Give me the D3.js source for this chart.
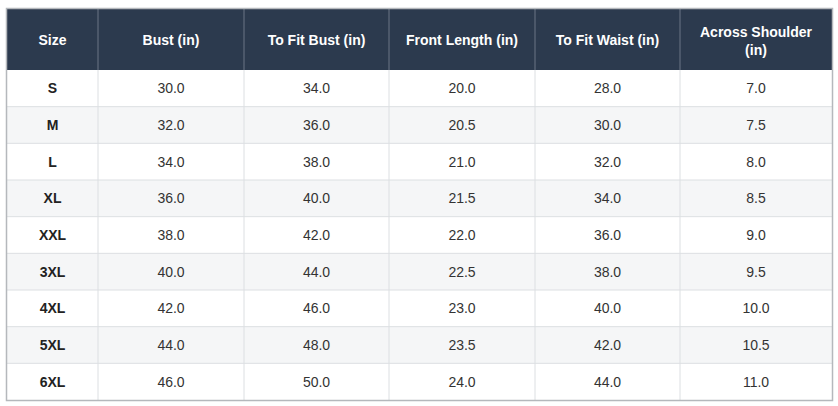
<!DOCTYPE html>
<html><head><meta charset="utf-8">
<script src="https://cdn.jsdelivr.net/npm/d3@7"></script>
<style>body{margin:0;background:#fff;}</style>
</head><body>
<div id="chart"></div>
<script>
const headers = ["Size", "Bust (in)", "To Fit Bust (in)", "Front Length (in)", "To Fit Waist (in)", "Across Shoulder (in)"];
const sizes = ["S", "M", "L", "XL", "XXL", "3XL", "4XL", "5XL", "6XL"];
const bust = ["30.0", "32.0", "34.0", "36.0", "38.0", "40.0", "42.0", "44.0", "46.0"];
const fitBust = ["34.0", "36.0", "38.0", "40.0", "42.0", "44.0", "46.0", "48.0", "50.0"];
const frontLength = ["20.0", "20.5", "21.0", "21.5", "22.0", "22.5", "23.0", "23.5", "24.0"];
const fitWaist = ["28.0", "30.0", "32.0", "34.0", "36.0", "38.0", "40.0", "42.0", "44.0"];
const shoulder = ["7.0", "7.5", "8.0", "8.5", "9.0", "9.5", "10.0", "10.5", "11.0"];
const columns = [sizes, bust, fitBust, frontLength, fitWaist, shoulder];
const colEdges = [7, 98, 244, 389, 535, 680, 832];

const W = 838, H = 406, tableTop = 9, headH = 61, tableBottom = 400;
const svg = d3.select("#chart").append("svg").attr("width", W).attr("height", H)
  .style("font-family", "'Liberation Sans', Arial, sans-serif");

const y = d3.scaleBand().domain(sizes).range([tableTop + headH, tableBottom]);

// header
svg.append("rect").attr("x", colEdges[0]).attr("y", tableTop).attr("width", colEdges[6] - colEdges[0])
  .attr("height", headH).attr("fill", "#2c3a4e");

// rows
svg.selectAll(".row").data(sizes).enter().append("rect")
  .attr("x", colEdges[0]).attr("y", d => y(d)).attr("width", colEdges[6] - colEdges[0])
  .attr("height", y.bandwidth()).attr("fill", (d, i) => i % 2 ? "#f5f6f7" : "#fff");

// horizontal lines
svg.selectAll(".hl").data(sizes.slice(1)).enter().append("line")
  .attr("x1", colEdges[0]).attr("x2", colEdges[6]).attr("y1", d => y(d)).attr("y2", d => y(d))
  .attr("stroke", "#dcdfe2");

// vertical lines
colEdges.slice(1, -1).forEach(x => {
  svg.append("line").attr("x1", x).attr("x2", x).attr("y1", tableTop).attr("y2", tableTop + headH).attr("stroke", "#6a7585");
  svg.append("line").attr("x1", x).attr("x2", x).attr("y1", tableTop + headH).attr("y2", tableBottom).attr("stroke", "#dcdfe2");
});

// outer border
svg.append("rect").attr("x", colEdges[0] - 0.5).attr("y", tableTop - 0.5).attr("width", colEdges[6] - colEdges[0] + 1)
  .attr("height", tableBottom - tableTop + 1).attr("fill", "none").attr("stroke", "#b5b8bc").attr("stroke-width", 1.5);

// header text
headers.forEach((h, i) => {
  const cx = (colEdges[i] + colEdges[i + 1]) / 2;
  const t = svg.append("text").attr("x", cx).attr("text-anchor", "middle").attr("fill", "#fff")
    .attr("font-weight", "bold").attr("font-size", 14);
  if (h === "Across Shoulder (in)") {
    t.append("tspan").attr("x", cx).attr("y", tableTop + 28).text("Across Shoulder");
    t.append("tspan").attr("x", cx).attr("y", tableTop + 46).text("(in)");
  } else {
    t.attr("y", tableTop + headH / 2 + 5).text(h);
  }
});

// body text
columns.forEach((col, i) => {
  const cx = (colEdges[i] + colEdges[i + 1]) / 2;
  svg.selectAll(".c" + i).data(col).enter().append("text")
    .attr("x", cx).attr("y", (d, j) => y(sizes[j]) + y.bandwidth() / 2 + 5)
    .attr("text-anchor", "middle").attr("font-size", 14)
    .attr("font-weight", i === 0 ? "bold" : "normal")
    .attr("fill", i === 0 ? "#222" : "#333").text(d => d);
});
</script>
</body></html>
